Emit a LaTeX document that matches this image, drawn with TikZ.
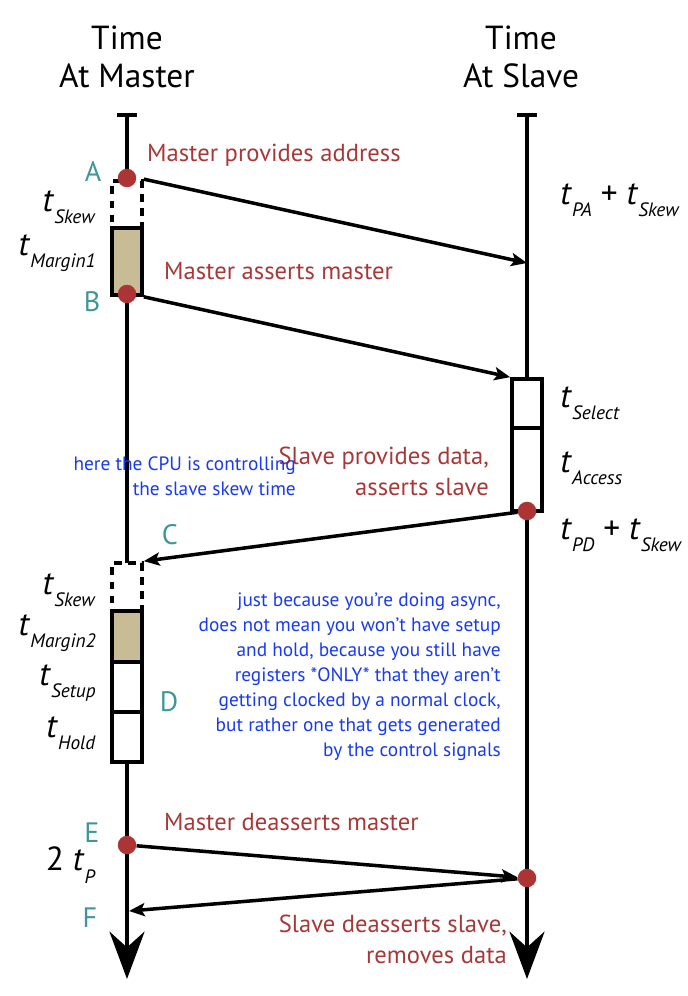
\documentclass[tikz,border=0pt]{standalone}
\usepackage{fontspec}
\setmainfont{PT Sans}
\usetikzlibrary{arrows.meta,positioning}

\definecolor{labelred}{RGB}{168,56,56}
\definecolor{dotred}{RGB}{172,52,52}
\definecolor{letterteal}{RGB}{62,150,152}
\definecolor{margintan}{RGB}{200,188,150}
\definecolor{noteblue}{RGB}{24,58,240}

% italic t with a lowered subscript
\newcommand{\tsub}[1]{\textit{t}\raisebox{-7pt}{\fontsize{11}{11}\selectfont\textit{#1}}}

\tikzset{
  time-line/.style={line width=2.1pt, -{Stealth[length=27pt,width=20pt,inset=9pt]}},
  signal/.style={line width=2pt, -{Stealth[length=9pt,width=7.5pt,inset=2pt]}},
  dot/.style={circle, fill=dotred, minimum size=0.37cm, inner sep=0pt},
  box/.style={rectangle, draw, line width=2.1pt, fill=white, minimum width=0.6cm, inner sep=0pt},
  skew-box/.style={box, dash pattern=on 4.5pt off 3.5pt},
  margin-box/.style={box, fill=margintan},
  event/.style={text=labelred, font=\fontsize{14}{17.6}\selectfont},
  letter/.style={text=letterteal, font=\fontsize{16}{16}\selectfont},
  interval/.style={font=\fontsize{19}{19}\selectfont, inner sep=0pt},
  note/.style={text=noteblue, font=\fontsize{11}{14.2}\selectfont, align=right},
  title/.style={font=\fontsize{19}{21.5}\selectfont, align=center}
}

\begin{document}
\begin{tikzpicture}[x=0.02cm, y=-0.02cm]
    \useasboundingbox (0,0) rectangle (688,996);

    % Nodes
    \node[title] (master-title) at (127,57) {Time\\At Master};
    \node[title] (slave-title) at (521,57) {Time\\At Slave};

    \coordinate (master-top) at (127,115);
    \coordinate (master-end) at (127,979);
    \coordinate (slave-top) at (527,115);
    \coordinate (slave-end) at (527,979);

    % Lines
    \draw[time-line] (master-top) -- (master-end);
    \draw[time-line] (slave-top) -- (slave-end);
    \draw[line width=2.1pt] ([xshift=-0.2cm]master-top) -- ([xshift=0.2cm]master-top);
    \draw[line width=2.1pt] ([xshift=-0.2cm]slave-top) -- ([xshift=0.2cm]slave-top);

    % boxes on the master side
    \node[skew-box, minimum height=0.94cm] (skew-one) at (127,204.5) {};
    \node[margin-box, minimum height=1.34cm] (margin-one) at (127,261.5) {};
    \node[skew-box, minimum height=0.96cm] (skew-two) at (127,587) {};
    \node[margin-box, minimum height=1.02cm] (margin-two) at (127,636.5) {};
    \node[box, minimum height=1.0cm] (setup) at (127,687) {};
    \node[box, minimum height=1.0cm] (hold) at (127,737) {};

    % boxes on the slave side
    \node[box, minimum height=0.98cm] (select) at (527,403.5) {};
    \node[box, minimum height=1.66cm] (access) at (527,469.5) {};

    % dots
    \node[dot] (dot-a) at (127,178) {};
    \node[dot] (dot-b) at (127,294) {};
    \node[dot] (dot-c) at (527,511) {};
    \node[dot] (dot-e) at (127,845) {};
    \node[dot] (dot-s) at (527,878) {};
    \coordinate (slave-a) at (527,263);
    \coordinate (master-f) at (129,911);

    % signals
    \draw[signal] (skew-one.north east) -- (slave-a);
    \draw[signal] (margin-one.south east) -- (select.north west);
    \draw[signal] (dot-c) -- (skew-two.north east);
    \draw[signal] (dot-e) -- (dot-s);
    \draw[signal] (dot-s) -- (master-f);

    % letters
    \node[letter] (a) at (93,172) {A};
    \node[letter] (b) at (92,302) {B};
    \node[letter] (c) at (170,535) {C};
    \node[letter] (d) at (169,702) {D};
    \node[letter] (e) at (92,833) {E};
    \node[letter] (f) at (90,918) {F};

    % events
    \node[event, anchor=west] (provides-address) at (141,155) {Master provides address};
    \node[event, anchor=west] (asserts-master) at (158,271) {Master asserts master};
    \node[event, anchor=east, align=right] (provides-data) at (495,471) {Slave provides data,\\asserts slave};
    \node[event, anchor=west] (deasserts-master) at (158,822) {Master deasserts master};
    \node[event, anchor=east, align=right] (deasserts-slave) at (513,939) {Slave deasserts slave,\\removes data};

    % intervals
    \node[interval, anchor=east] (t-skew-one) at (96,207) {\tsub{Skew}};
    \node[interval, anchor=east] (t-margin-one) at (96,253) {\tsub{Margin1}};
    \node[interval, anchor=east] (t-skew-two) at (96,590) {\tsub{Skew}};
    \node[interval, anchor=east] (t-margin-two) at (96,633) {\tsub{Margin2}};
    \node[interval, anchor=east] (t-setup) at (96,683) {\tsub{Setup}};
    \node[interval, anchor=east] (t-hold) at (96,733) {\tsub{Hold}};
    \node[interval, anchor=east] (two-tp) at (96,865) {2 \tsub{P}};
    \node[interval, anchor=west] (t-pa) at (560,200) {\tsub{PA} + \tsub{Skew}};
    \node[interval, anchor=west] (t-select) at (560,403) {\tsub{Select}};
    \node[interval, anchor=west] (t-access) at (560,468) {\tsub{Access}};
    \node[interval, anchor=west] (t-pd) at (560,535) {\tsub{PD} + \tsub{Skew}};

    % notes
    \node[note, anchor=east] (cpu-note) at (302,476) {here the CPU is controlling\\the slave skew time};
    \node[note, anchor=east] (async-note) at (507,677) {just because you're doing async,\\does not mean you won't have setup\\and hold, because you still have\\registers *ONLY* that they aren't\\getting clocked by a normal clock,\\but rather one that gets generated\\by the control signals};
\end{tikzpicture}
\end{document}
